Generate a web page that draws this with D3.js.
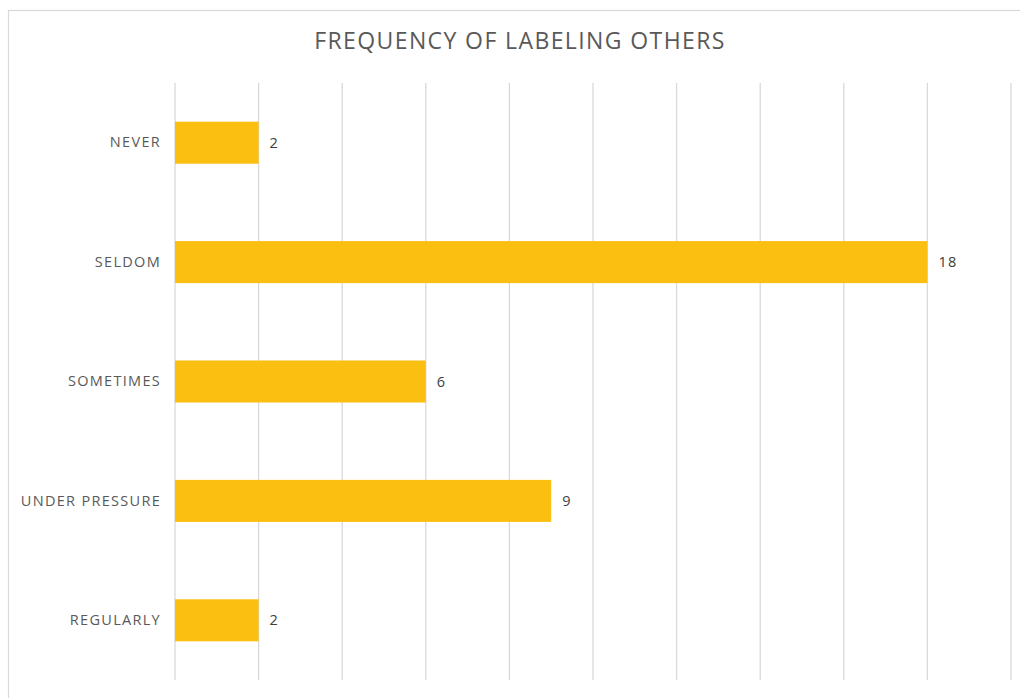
<!DOCTYPE html>
<html>
<head>
<meta charset="utf-8">
<script src="https://cdn.jsdelivr.net/npm/d3@7"></script>
<style>
  html, body { margin: 0; padding: 0; background: #fff; }
  svg { display: block; }
</style>
</head>
<body>
<svg id="chart" width="1020" height="698"></svg>
<script>
// Survey answers and counts
const categories = ["NEVER", "SELDOM", "SOMETIMES", "UNDER PRESSURE", "REGULARLY"];
const counts = [2, 18, 6, 9, 2];
const gridTicks = [0, 2, 4, 6, 8, 10, 12, 14, 16, 18, 20];
const title = "FREQUENCY OF LABELING OTHERS";

const svg = d3.select("#chart");
const W = 1020, H = 698;
const plot = { left: 175, right: 1011, top: 83, bottom: 680 };
const FONT = "'Open Sans', 'DejaVu Sans', sans-serif";

// Outer chart-area frame
svg.append("rect")
  .attr("x", 8.5).attr("y", 10.5)
  .attr("width", W + 10).attr("height", H + 10)
  .attr("fill", "#fff").attr("stroke", "#d9d9d9").attr("stroke-width", 1.2);

const x = d3.scaleLinear().domain([0, 20]).range([plot.left, plot.right]);
const y = d3.scaleBand().domain(categories).range([plot.top, plot.bottom]).paddingInner(0.648).paddingOuter(0.324);

// Vertical gridlines
svg.append("g").selectAll("line").data(gridTicks).join("line")
  .attr("x1", d => x(d)).attr("x2", d => x(d))
  .attr("y1", plot.top).attr("y2", plot.bottom)
  .attr("stroke", "#d9d9d9").attr("stroke-width", 1.3);

// Bars
svg.append("g").selectAll("rect").data(categories).join("rect")
  .attr("x", x(0))
  .attr("y", d => y(d))
  .attr("width", (d, i) => x(counts[i]) - x(0))
  .attr("height", y.bandwidth())
  .attr("fill", "#fbbf12");

// Category axis labels
const yAxis = d3.axisLeft(y).tickSize(0).tickPadding(14);
const gy = svg.append("g").attr("transform", `translate(${plot.left},0)`).call(yAxis);
gy.select(".domain").remove();
gy.selectAll("text")
  .attr("font-family", FONT)
  .attr("font-size", 14.5)
  .attr("letter-spacing", 1.3)
  .attr("fill", "#595959");

// Value labels
svg.append("g").selectAll("text").data(categories).join("text")
  .attr("x", (d, i) => x(counts[i]) + 11)
  .attr("y", d => y(d) + y.bandwidth() / 2)
  .attr("dy", "0.35em")
  .attr("font-family", FONT)
  .attr("font-size", 14.5)
  .attr("letter-spacing", 1.3)
  .attr("fill", "#404040")
  .text((d, i) => counts[i]);

// Title
svg.append("text")
  .attr("x", 520).attr("y", 49)
  .attr("text-anchor", "middle")
  .attr("font-family", FONT)
  .attr("font-size", 23)
  .attr("letter-spacing", 1.4)
  .attr("fill", "#595959")
  .text(title);
</script>
</body>
</html>
